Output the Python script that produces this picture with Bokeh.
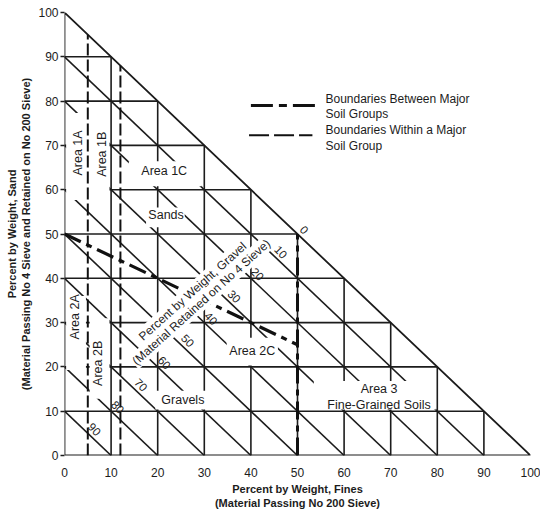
import math
from bokeh.plotting import figure
from bokeh.models import Range1d, Label, FixedTicker
from bokeh.embed import file_html
from bokeh.resources import INLINE
from bokeh.core.properties import value

# ---------------- data ----------------
axis_ticks = [0, 10, 20, 30, 40, 50, 60, 70, 80, 90, 100]
sand_grid = [10, 20, 30, 40, 50, 60, 70, 80, 90]     # horizontal lines, % sand
fines_grid = [10, 20, 30, 40, 50, 60, 70, 80, 90]    # vertical lines, % fines
gravel_grid = [10, 20, 30, 40, 50, 60, 70, 80, 90]   # diagonal lines, % gravel
gravel_ticks = [0, 10, 20, 30, 40, 50, 60, 70, 80, 90]
gravel_tick_labels = ["0", "10", "20", "30", "40", "50", "60", "70", "80", "90"]

# boundaries between major soil groups (fines %, sand %)
major_sg_fines = [0, 50]
major_sg_sand = [50, 25]          # sand = gravel
major_fg_fines = [50, 50]
major_fg_sand = [0, 50]           # 50 % fines
# boundaries within a major soil group (% fines)
minor_fines = [5, 12]

# area names (fines %, sand %)
area_text = ["Area 1C", "Sands", "Area 2C", "Gravels", "Area 3", "Fine-Grained Soils"]
area_x = [21.4, 21.8, 40.3, 25.4, 67.5, 67.5]
area_y = [64.3, 54.2, 23.7, 12.5, 15.0, 11.4]
vert_text = ["Area 1A", "Area 1B", "Area 2A", "Area 2B"]
vert_x = [2.9, 8.0, 2.3, 7.1]
vert_y = [68.3, 68.0, 31.3, 20.8]

# blank boxes left around the area names (fines %, sand %)
clear_left = [0.35, 13.8, 17.5, 0.35, 5.4, 34.8, 19.5, 53.5]
clear_right = [9.65, 29.4, 25.8, 4.6, 9.65, 45.8, 30.5, 79.7]
clear_bottom = [57.7, 60.8, 51.5, 19.3, 12.8, 20.3, 10.4, 10.4]
clear_top = [77.3, 66.4, 56.0, 36.0, 31.0, 26.6, 14.6, 16.8]

legend_text = ["Boundaries Between Major", "Soil Groups",
               "Boundaries Within a Major", "Soil Group"]

x_title = "Percent by Weight, Fines\n(Material Passing No 200 Sieve)"
y_title = "Percent by Weight, Sand\n(Material Passing No 4 Sieve and Retained on No 200 Sieve)"

INK = "#1c1c1c"
FONT = "Liberation Sans"

p = figure(width=540, height=511, x_range=Range1d(0, 100), y_range=Range1d(0, 100),
           output_backend="svg", toolbar_location=None,
           min_border_left=64, min_border_right=10, min_border_top=12, min_border_bottom=56)
p.outline_line_color = None
p.grid.visible = False

for ax in (p.xaxis, p.yaxis):
    ax.ticker = FixedTicker(ticks=axis_ticks)
    ax.axis_line_color = None
    ax.minor_tick_line_color = None
    ax.major_label_text_font = FONT
    ax.major_label_text_font_size = "12px"
    ax.major_label_text_color = INK
    ax.axis_label_text_font = FONT
    ax.axis_label_text_font_style = "bold"
    ax.axis_label_text_color = INK
    ax.axis_label_text_font_size = "11px"
p.xaxis.major_tick_line_color = None
p.xaxis.major_label_standoff = 6
p.xaxis.axis_label = x_title
p.xaxis.axis_label_standoff = 3
p.yaxis.major_tick_out = 4
p.yaxis.major_tick_in = 0
p.yaxis.major_tick_line_width = 1.5
p.yaxis.major_tick_line_color = INK
p.yaxis.major_label_standoff = 2
p.yaxis.axis_label = y_title
p.yaxis.axis_label_standoff = 3

GW = 1.6
# grid
p.segment(x0=[0] * len(sand_grid), y0=sand_grid, x1=[100 - s for s in sand_grid], y1=sand_grid,
          line_color=INK, line_width=GW)
p.segment(x0=fines_grid, y0=[0] * len(fines_grid), x1=fines_grid, y1=[100 - f for f in fines_grid],
          line_color=INK, line_width=GW)
p.segment(x0=[0] * len(gravel_grid), y0=[100 - g for g in gravel_grid],
          x1=[100 - g for g in gravel_grid], y1=[0] * len(gravel_grid),
          line_color=INK, line_width=GW)

# blank boxes
p.quad(left=clear_left, right=clear_right, bottom=clear_bottom, top=clear_top,
       fill_color="white", line_color=None)

# triangle outline
p.line(x=[0, 100, 0, 0], y=[0, 0, 100, 0], line_color=INK, line_width=1.8, line_join="round")

# boundaries
HEAVY = "18 6 6 6"
p.line(x=major_sg_fines, y=major_sg_sand, line_color="#111111", line_width=3.2, line_dash=HEAVY)
p.line(x=major_fg_fines, y=major_fg_sand, line_color="#111111", line_width=3.0, line_dash=HEAVY)
for f in minor_fines:
    p.line(x=[f, f], y=[0, 100 - f], line_color="#111111", line_width=2.0, line_dash="12 4")

# legend samples
p.line(x=[40, 54.3], y=[79, 79], line_color="#111111", line_width=3.0, line_dash="22 6 8 6")
p.line(x=[39.6, 53.2], y=[72.3, 72.3], line_color="#111111", line_width=2.0, line_dash="20 5")
p.text(x=[56] * 4, y=[80.4, 77.2, 73.4, 69.9], text=legend_text,
       text_font=value(FONT), text_font_size="12px", text_color=INK,
       text_baseline="middle", text_align="left")

# area names
p.text(x=area_x, y=area_y, text=area_text, text_font=value(FONT), text_font_size="12.5px",
       text_color=INK, text_align="center", text_baseline="middle")
p.text(x=vert_x, y=vert_y, text=vert_text, text_font=value(FONT), text_font_size="12.5px",
       text_color=INK, text_align="center", text_baseline="middle", angle=math.pi / 2)

# gravel scale numbers
gx = [(100 - g) / 2 + 1.4 for g in gravel_ticks]
gy = [(100 - g) / 2 + 0.9 for g in gravel_ticks]
p.text(x=gx, y=gy, text=gravel_tick_labels, text_font=value(FONT), text_font_size="11.5px",
       text_color=INK, text_align="center", text_baseline="middle", angle=-0.8)

# gravel axis title
ang = math.radians(42)
for tx, ty, tt in [(27.5, 37.05, "Percent by Weight, Gravel"),
                   (29.35, 34.6, "(Material Retained on No 4 Sieve)")]:
    p.add_layout(Label(x=tx, y=ty, text=tt, angle=ang, text_font=FONT, text_font_size="12px",
                       text_color=INK, text_align="center", text_baseline="middle",
                       background_fill_color="white", padding=1))

open("out.html", "w").write(file_html(p, INLINE))
